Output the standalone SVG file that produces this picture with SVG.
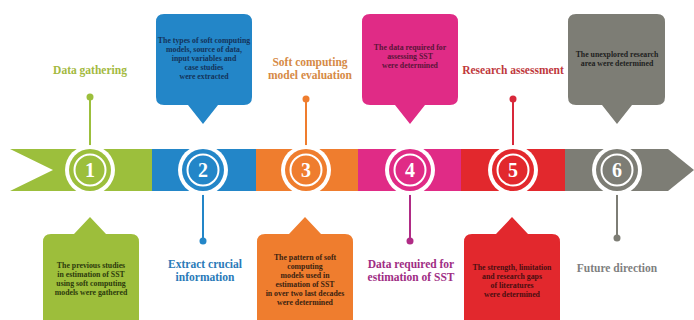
<svg xmlns="http://www.w3.org/2000/svg" width="694" height="320" viewBox="0 0 694 320">
<style>
.lbl{font-family:"Liberation Serif","Times New Roman",serif;font-weight:bold;font-size:11.5px;text-anchor:middle}
.ct{font-family:"Liberation Serif","Times New Roman",serif;font-weight:bold;font-size:7.8px;text-anchor:middle}
.num{font-family:"Liberation Serif","Times New Roman",serif;font-weight:bold;font-size:20px;fill:#fff;text-anchor:middle}
.ring{fill:none;stroke:#fff;stroke-width:2}
</style>
<rect width="694" height="320" fill="#fff"/>
<g id="band">
<polygon points="10,149 152,149 152,191 10,191 53,170" fill="#9cbf3c"/>
<rect x="152" y="149" width="104" height="42" fill="#2386c8"/>
<rect x="256" y="149" width="102" height="42" fill="#ef7d2e"/>
<rect x="358" y="149" width="103" height="42" fill="#e02b86"/>
<rect x="461" y="149" width="104" height="42" fill="#e2282d"/>
<polygon points="565,149 668,149 694,170 668,191 565,191" fill="#7d7d75"/>
</g>
<g id="connectors">
<line x1="90" y1="97" x2="90" y2="146" stroke="#9cbf3c" stroke-width="2"/>
<circle cx="90" cy="97" r="3.5" fill="#9cbf3c"/>
<line x1="306" y1="99" x2="306" y2="146" stroke="#ef7d2e" stroke-width="2"/>
<circle cx="306" cy="99" r="3.5" fill="#ef7d2e"/>
<line x1="513" y1="99" x2="513" y2="146" stroke="#d8283a" stroke-width="2"/>
<circle cx="513" cy="99" r="3.5" fill="#d8283a"/>
<line x1="203" y1="194" x2="203" y2="241" stroke="#2386c8" stroke-width="2"/>
<circle cx="203" cy="241" r="3.5" fill="#2386c8"/>
<line x1="410" y1="194" x2="410" y2="241" stroke="#b02b85" stroke-width="2"/>
<circle cx="410" cy="241" r="3.5" fill="#b02b85"/>
<line x1="617" y1="194" x2="617" y2="238" stroke="#7d7d75" stroke-width="2"/>
<circle cx="617" cy="238" r="3.5" fill="#7d7d75"/>
</g>
<g id="step1">
<circle cx="90" cy="170" r="25" fill="#fff"/>
<circle cx="90" cy="170" r="21" fill="#9cbf3c"/>
<circle cx="90" cy="170" r="15.5" class="ring"/>
<text x="90" y="177" class="num">1</text>
<text x="90" y="74" class="lbl" fill="#a3b940">Data gathering</text>
<path d="M51,234 H74 L90,217 L106,234 H131 Q139,234 139,242 V330 H43 V242 Q43,234 51,234 Z" fill="#9dbe3b"/>
<text class="ct" fill="#2c3a0c"><tspan x="91" y="268">The previous studies</tspan><tspan x="91" y="277">in estimation of SST</tspan><tspan x="91" y="286">using soft computing</tspan><tspan x="91" y="295">models were gathered</tspan></text>
</g>
<g id="step2">
<circle cx="203" cy="170" r="25" fill="#fff"/>
<circle cx="203" cy="170" r="21" fill="#2386c8"/>
<circle cx="203" cy="170" r="15.5" class="ring"/>
<text x="203" y="177" class="num">2</text>
<text class="lbl" fill="#2a7ab8"><tspan x="205" y="268">Extract crucial</tspan><tspan x="205" y="281">information</tspan></text>
<path d="M164,14 H244 Q252,14 252,22 V97 Q252,105 244,105 H218 L203,124 L188,105 H164 Q156,105 156,97 V22 Q156,14 164,14 Z" fill="#2386c8"/>
<text class="ct" fill="#13335a"><tspan x="204" y="43">The types of soft computing</tspan><tspan x="204" y="52">models, source of data,</tspan><tspan x="204" y="61">input variables and</tspan><tspan x="204" y="70">case studies</tspan><tspan x="204" y="79">were extracted</tspan></text>
</g>
<g id="step3">
<circle cx="306" cy="170" r="25" fill="#fff"/>
<circle cx="306" cy="170" r="21" fill="#ef7d2e"/>
<circle cx="306" cy="170" r="15.5" class="ring"/>
<text x="306" y="177" class="num">3</text>
<text class="lbl" fill="#d68a45"><tspan x="310" y="66">Soft computing</tspan><tspan x="310" y="79">model evaluation</tspan></text>
<path d="M265,234 H289 L305,217 L321,234 H345 Q353,234 353,242 V330 H257 V242 Q257,234 265,234 Z" fill="#ef7d2e"/>
<text class="ct" fill="#3a2210"><tspan x="305" y="260">The pattern of soft</tspan><tspan x="305" y="269">computing</tspan><tspan x="305" y="278">models used in</tspan><tspan x="305" y="287">estimation of SST</tspan><tspan x="305" y="296">in over two last decades</tspan><tspan x="305" y="305">were determined</tspan></text>
</g>
<g id="step4">
<circle cx="410" cy="170" r="25" fill="#fff"/>
<circle cx="410" cy="170" r="21" fill="#e02b86"/>
<circle cx="410" cy="170" r="15.5" class="ring"/>
<text x="410" y="177" class="num">4</text>
<text class="lbl" fill="#a02d84"><tspan x="411" y="268">Data required for</tspan><tspan x="411" y="281">estimation of SST</tspan></text>
<path d="M370,14 H450 Q458,14 458,22 V97 Q458,105 450,105 H425 L410,124 L395,105 H370 Q362,105 362,97 V22 Q362,14 370,14 Z" fill="#e02b86"/>
<text class="ct" fill="#5a1538"><tspan x="410" y="50">The data required for</tspan><tspan x="410" y="59">assessing SST</tspan><tspan x="410" y="68">were determined</tspan></text>
</g>
<g id="step5">
<circle cx="513" cy="170" r="25" fill="#fff"/>
<circle cx="513" cy="170" r="21" fill="#e2282d"/>
<circle cx="513" cy="170" r="15.5" class="ring"/>
<text x="513" y="177" class="num">5</text>
<text x="513" y="74" class="lbl" fill="#c0393d">Research assessment</text>
<path d="M472,234 H496 L512,217 L528,234 H552 Q560,234 560,242 V330 H464 V242 Q464,234 472,234 Z" fill="#e2282d"/>
<text class="ct" fill="#4a0e10"><tspan x="512" y="270">The strength, limitation</tspan><tspan x="512" y="279">and research gaps</tspan><tspan x="512" y="288">of literatures</tspan><tspan x="512" y="297">were determined</tspan></text>
</g>
<g id="step6">
<circle cx="617" cy="170" r="25" fill="#fff"/>
<circle cx="617" cy="170" r="21" fill="#7d7d75"/>
<circle cx="617" cy="170" r="15.5" class="ring"/>
<text x="617" y="177" class="num">6</text>
<text x="617" y="272" class="lbl" fill="#7f7f7f">Future direction</text>
<path d="M576,14 H657 Q665,14 665,22 V97 Q665,105 657,105 H632 L617,124 L602,105 H576 Q568,105 568,97 V22 Q568,14 576,14 Z" fill="#7d7d75"/>
<text class="ct" fill="#1e1e1e"><tspan x="617" y="57">The unexplored research</tspan><tspan x="617" y="66">area were determined</tspan></text>
</g>
</svg>
